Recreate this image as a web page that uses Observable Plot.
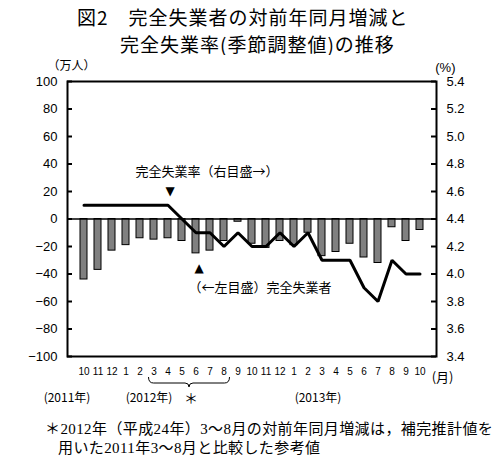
<!DOCTYPE html>
<html>
<head>
<meta charset="utf-8">
<script src="https://cdn.jsdelivr.net/npm/d3@7"></script>
<script src="https://cdn.jsdelivr.net/npm/@observablehq/plot@0.6"></script>
<style>
  body { margin: 0; background: white; }
  #wrap { position: relative; width: 500px; height: 462px; background: white; overflow: hidden; }
  .t { position: absolute; white-space: nowrap; color: #000; }
  .title { font-family: "Noto Sans CJK JP", sans-serif; font-size: 19px; line-height: 25px; letter-spacing: 1px; }
  .note { font-family: "Liberation Serif", "Noto Sans CJK JP", serif; font-size: 15px; line-height: 19px; letter-spacing: 0.4px; }
  #chart { position: absolute; left: 0; top: 55px; }
</style>
</head>
<body>
<div id="wrap">
  <div class="t title" style="left:77px; top:3.5px;">図2　完全失業者の対前年同月増減と</div>
  <div class="t title" style="left:120px; top:30.5px;">完全失業率(季節調整値)の推移</div>
  <div id="chart"></div>
  <div class="t note" style="left:45px; top:420px;">＊2012年（平成24年）3～8月の対前年同月増減は，補完推計値を</div>
  <div class="t note" style="left:58px; top:439px;">用いた2011年3～8月と比較した参考値</div>
</div>
<script>
// ---- data ----
const periods = [
  "2011-10","2011-11","2011-12",
  "2012-01","2012-02","2012-03","2012-04","2012-05","2012-06","2012-07","2012-08","2012-09","2012-10","2012-11","2012-12",
  "2013-01","2013-02","2013-03","2013-04","2013-05","2013-06","2013-07","2013-08","2013-09","2013-10"
];
// 完全失業者 対前年同月増減（万人）
const unemployedChange = [
  -44, -37, -23,
  -19, -14, -15, -14, -16, -25, -23, -16, -2, -18, -21, -16,
  -19, -10, -27, -24, -18, -28, -32, -6, -16, -8
];
// 完全失業率（季節調整値, %）
const unemploymentRate = [
  4.5, 4.5, 4.5,
  4.5, 4.5, 4.5, 4.5, 4.4, 4.3, 4.3, 4.2, 4.3, 4.2, 4.2, 4.3,
  4.2, 4.3, 4.1, 4.1, 4.1, 3.9, 3.8, 4.1, 4.0, 4.0
];
const leftTicks = [-100, -80, -60, -40, -20, 0, 20, 40, 60, 80, 100];
const rightTicks = [3.4, 3.6, 3.8, 4.0, 4.2, 4.4, 4.6, 4.8, 5.0, 5.2, 5.4];
const yearLabels = ["(2011年)", "(2012年)", "(2013年)"];
const rateLabel = "完全失業率（右目盛→）";
const countLabel = "（←左目盛）完全失業者";

// right axis (3.4–5.4 %) mapped onto the left scale (−100–100 万人)
const rateToY = r => (r - 4.4) * 100;
const yToRate = v => 4.4 + v / 100;

const table = periods.map((p, i) => ({period: p, change: unemployedChange[i], rate: unemploymentRate[i]}));

function brace(index, scales, values, dimensions) {
  const x = scales.x;
  const bw = typeof x.bandwidth === "function" ? x.bandwidth() : (x.bandwidth || 0);
  const x1 = x("2012-03") + bw / 2 - 5;
  const x2 = x("2012-08") + bw / 2 + 6;
  const xm = (x1 + x2) / 2;
  const yb = dimensions.height - dimensions.marginBottom;
  const yTop = yb + 21, yMid = yb + 27, yTip = yb + 31;
  const d = `M${x1},${yTop} Q${x1},${yMid} ${x1 + 5},${yMid} L${xm - 4},${yMid} Q${xm},${yMid} ${xm},${yTip} Q${xm},${yMid} ${xm + 4},${yMid} L${x2 - 5},${yMid} Q${x2},${yMid} ${x2},${yTop}`;
  return d3.create("svg:path").attr("d", d).attr("fill", "none").attr("stroke", "#000").attr("stroke-width", 1).node();
}

const W = 500, ML = 67, MR = 64;
const frameW = W - ML - MR;
const cjk = "Noto Sans CJK JP";
const chart = Plot.plot({
  width: W,
  height: 357,
  marginTop: 26,
  marginBottom: 56,
  marginLeft: ML,
  marginRight: MR,
  style: {fontFamily: "Liberation Sans, Arial, sans-serif", fontSize: "13px", color: "#000", background: "white", overflow: "visible"},
  x: {type: "band", domain: periods, paddingInner: 0.5, paddingOuter: 0.25},
  y: {domain: [-100, 100]},
  marks: [
    Plot.barY(table, {x: "period", y: "change", fill: "#808080", stroke: "#000", strokeWidth: 1}),
    Plot.ruleY([0], {stroke: "#000", strokeWidth: 1.5}),
    Plot.line(table, {x: "period", y: d => rateToY(d.rate), stroke: "#000", strokeWidth: 3, strokeLinejoin: "miter"}),
    // inward tick marks on both vertical axes
    Plot.tickY(leftTicks, {y: d => d, insetRight: frameW - 5, stroke: "#000", strokeWidth: 2}),
    Plot.tickY(rightTicks.map(rateToY), {y: d => d, insetLeft: frameW - 5, stroke: "#000", strokeWidth: 2}),
    Plot.frame({stroke: "#000", strokeWidth: 2}),
    Plot.axisY(leftTicks, {anchor: "left", tickSize: 0, tickPadding: 10, fontSize: 13, label: null}),
    Plot.axisY(rightTicks.map(rateToY), {anchor: "right", tickSize: 0, tickPadding: 10, fontSize: 13, label: null,
      tickFormat: v => yToRate(v).toFixed(1)}),
    Plot.axisX({tickSize: 0, tickPadding: 11, fontSize: 10, label: null, tickFormat: d => String(+d.slice(5))}),
    Plot.text(["（万人）"], {frameAnchor: "top-left", lineAnchor: "middle", dx: -20, dy: -15, fontSize: 12, fontFamily: cjk}),
    Plot.text(["(%)"], {frameAnchor: "top-right", lineAnchor: "middle", dx: 19, dy: -14, fontSize: 13}),
    Plot.text(["(月)"], {frameAnchor: "bottom-right", lineAnchor: "middle", dx: 17, dy: 21, fontSize: 13, fontFamily: cjk}),
    Plot.text([yearLabels[0]], {x: ["2011-10"], frameAnchor: "bottom", lineAnchor: "middle", dx: -17, dy: 42, fontSize: 12, fontFamily: cjk}),
    Plot.text([yearLabels[1]], {x: ["2012-03"], frameAnchor: "bottom", lineAnchor: "middle", dx: -5, dy: 42, fontSize: 12, fontFamily: cjk}),
    Plot.text([yearLabels[2]], {x: ["2013-03"], frameAnchor: "bottom", lineAnchor: "middle", dx: -4, dy: 42, fontSize: 12, fontFamily: cjk}),
    Plot.text(["＊"], {x: ["2012-05"], frameAnchor: "bottom", lineAnchor: "middle", dx: 9, dy: 42, fontSize: 14, fontFamily: cjk}),
    brace,
    Plot.text([rateLabel], {x: ["2012-04"], y: [34], dx: 39, textAnchor: "middle", fontSize: 13, fontFamily: cjk}),
    Plot.text(["▼"], {x: ["2012-04"], y: [20], dx: 2, fontSize: 12, fontFamily: "DejaVu Sans"}),
    Plot.text(["▲"], {x: ["2012-06"], y: [-36], dx: 3, fontSize: 12, fontFamily: "DejaVu Sans"}),
    Plot.text([countLabel], {x: ["2012-06"], y: [-50], dx: 64, textAnchor: "middle", fontSize: 13, fontFamily: cjk})
  ]
});
document.getElementById("chart").appendChild(chart);
</script>
</body>
</html>
